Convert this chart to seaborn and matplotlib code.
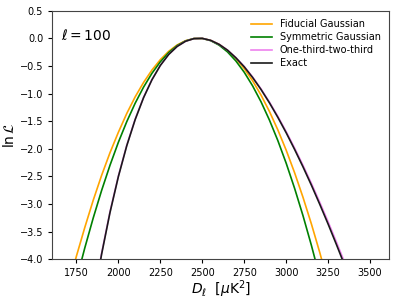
import numpy as np
import pandas as pd
import matplotlib
matplotlib.use("Agg")
import matplotlib.pyplot as plt
import seaborn as sns

# D_ell grid (muK^2) and ln L
d_ell = [1700, 1750, 1800, 1850, 1900, 1950, 2000, 2050, 2100, 2150, 2200,
         2250, 2300, 2350, 2400, 2450, 2500, 2550, 2600, 2650, 2700, 2750,
         2800, 2850, 2900, 2950, 3000, 3050, 3100, 3150, 3200, 3250, 3300,
         3350, 3400]

fiducial_gauss = [-4.50, -3.94, -3.42, -2.93, -2.48, -2.07, -1.70, -1.36, -1.06,
                  -0.80, -0.575, -0.387, -0.236, -0.122, -0.045, -0.006, -0.004,
                  -0.039, -0.111, -0.220, -0.366, -0.550, -0.771, -1.029, -1.324,
                  -1.657, -2.026, -2.433, -2.877, -3.358, -3.876, -4.432, -5.02,
                  -5.65, -6.32]

symmetric_gauss = [-4.99, -4.37, -3.79, -3.251, -2.753, -2.297, -1.881, -1.508,
                   -1.175, -0.884, -0.634, -0.426, -0.259, -0.133, -0.049, -0.006,
                   -0.004, -0.044, -0.125, -0.247, -0.411, -0.616, -0.863, -1.150,
                   -1.480, -1.850, -2.262, -2.715, -3.209, -3.745, -4.322, -4.94,
                   -5.60, -6.30, -7.04]

one_third_two_third = [-8.13, -6.85, -5.73, -4.745, -3.888, -3.136, -2.49, -1.934,
                       -1.464, -1.070, -0.748, -0.490, -0.292, -0.149, -0.055,
                       -0.007, -0.003, -0.039, -0.110, -0.214, -0.350, -0.512,
                       -0.702, -0.917, -1.154, -1.412, -1.690, -1.986, -2.297,
                       -2.624, -2.967, -3.321, -3.691, -4.070, -4.46]

exact = [-8.16, -6.884, -5.760, -4.771, -3.906, -3.152, -2.501, -1.943, -1.471,
         -1.075, -0.751, -0.492, -0.293, -0.149, -0.055, -0.007, -0.003, -0.039,
         -0.111, -0.216, -0.354, -0.518, -0.711, -0.928, -1.168, -1.430, -1.711,
         -2.011, -2.326, -2.657, -3.004, -3.363, -3.737, -4.121, -4.515]

labels = ["Fiducial Gaussian", "Symmetric Gaussian", "One-third-two-third", "Exact"]
colors = ["orange", "green", "violet", "#1a1a1a"]

df = pd.concat([
    pd.DataFrame({"D": d_ell, "lnL": vals, "model": name})
    for name, vals in zip(labels, [fiducial_gauss, symmetric_gauss,
                                   one_third_two_third, exact])
])

fig = plt.figure(figsize=(3.99, 3.02), dpi=100)
ax = fig.add_axes([0.131, 0.141, 0.845, 0.824])

sns.lineplot(data=df, x="D", y="lnL", hue="model", hue_order=labels,
             palette=colors, linewidth=1.2, ax=ax)

ax.set_xlim(1606, 3615)
ax.set_ylim(-4, 0.5)
ax.set_xticks(np.arange(1750, 3501, 250))
ax.set_yticks(np.arange(-4, 0.51, 0.5))
ax.tick_params(labelsize=7, length=3, width=0.8)
for s in ax.spines.values():
    s.set_linewidth(0.8)
    s.set_color("#444444")

ax.set_xlabel(r"$D_\ell$  [$\mu$K$^2$]", fontsize=10, labelpad=0)
ax.set_ylabel(r"$\ln\mathcal{L}$", fontsize=10, labelpad=2)
ax.text(0.027, 0.88, r"$\ell = 100$", transform=ax.transAxes, fontsize=10)

handles, lbls = ax.get_legend_handles_labels()
ax.legend(handles, lbls, loc="upper right", frameon=False, fontsize=7,
          handlelength=2.2, labelspacing=0.3)

fig.savefig("out.png", dpi=100)
